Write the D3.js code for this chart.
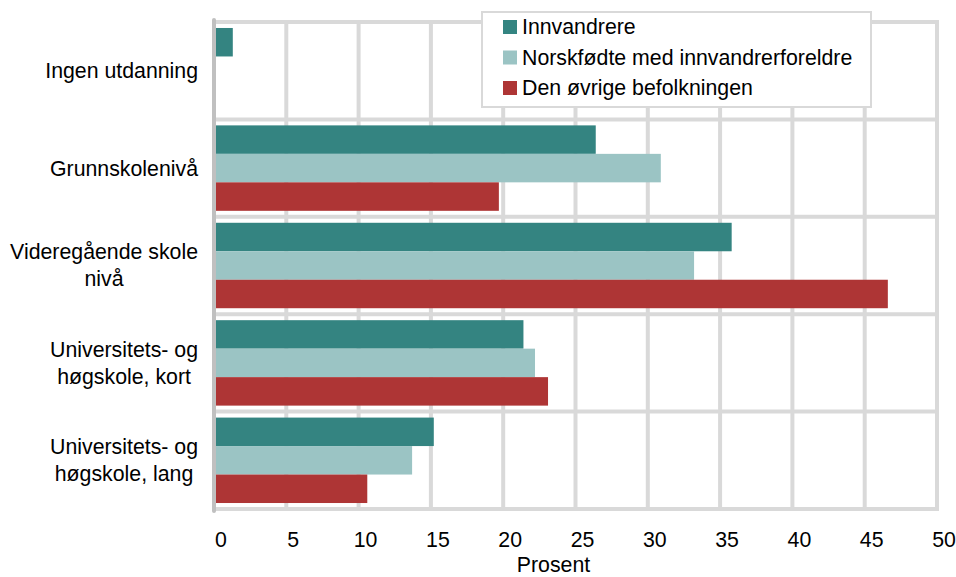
<!DOCTYPE html>
<html>
<head>
<meta charset="utf-8">
<script src="https://cdn.jsdelivr.net/npm/d3@7"></script>
<style>
  body { margin: 0; background: #fff; }
  text { font-family: "Liberation Sans", Arial, sans-serif; fill: #000; }
</style>
</head>
<body>
<div id="chart"></div>
<script>
// categories top to bottom, each label split into lines
let categories = ["Ingen utdanning", "Grunnskolenivå", "Videregående skole nivå",
    "Universitets- og høgskole, kort", "Universitets- og høgskole, lang"];
let labelLines = [["Ingen utdanning"], ["Grunnskolenivå"], ["Videregående skole", "nivå"],
    ["Universitets- og", "høgskole, kort"], ["Universitets- og", "høgskole, lang"]];
let seriesNames = ["Innvandrere", "Norskfødte med innvandrerforeldre", "Den øvrige befolkningen"];
let innvandrere = [1.3, 26.4, 35.8, 21.4, 15.2];
let norskfodte = [0, 30.9, 33.2, 22.2, 13.7];
let ovrige = [0, 19.7, 46.6, 23.1, 10.6];
let xTicks = [0, 5, 10, 15, 20, 25, 30, 35, 40, 45, 50];
let colors = ["#348481", "#9bc4c4", "#ae3535"];

let width = 956, height = 577;
let margin = {top: 22, right: 19, bottom: 68, left: 214};
let fs = "21.3px";

let svg = d3.select("#chart").append("svg").attr("width", width).attr("height", height);

let x = d3.scaleLinear().domain([0, 50]).range([margin.left, width - margin.right]);
let y0 = d3.scaleBand().domain(categories).range([margin.top, height - margin.bottom]);
let y1 = d3.scaleBand().domain(seriesNames).range([0, y0.bandwidth()]).paddingOuter(0.21);

let series = [innvandrere, norskfodte, ovrige];

// gridlines
svg.append("g").selectAll("line").data(xTicks.slice(1)).enter().append("line")
    .attr("x1", d => x(d)).attr("x2", d => x(d))
    .attr("y1", margin.top).attr("y2", height - margin.bottom)
    .attr("stroke", "#d9d9d9").attr("stroke-width", 4);

let hLines = categories.map(c => y0(c)).concat([height - margin.bottom]);
svg.append("g").selectAll("line").data(hLines).enter().append("line")
    .attr("x1", margin.left).attr("x2", x(50) + 2)
    .attr("y1", d => d).attr("y2", d => d)
    .attr("stroke", "#d9d9d9").attr("stroke-width", 4);

// bars
categories.forEach(function(c, i) {
    let g = svg.append("g").attr("transform", "translate(0," + y0(c) + ")");
    seriesNames.forEach(function(s, j) {
        let v = series[j][i];
        if (v <= 0) return;
        g.append("rect")
            .attr("x", x(0)).attr("y", y1(s))
            .attr("width", x(v) - x(0)).attr("height", y1.bandwidth())
            .attr("fill", colors[j]);
    });
});

// left axis line
svg.append("line").attr("x1", x(0)).attr("x2", x(0))
    .attr("y1", margin.top - 2).attr("y2", height - margin.bottom + 2)
    .attr("stroke", "#c0c0c0").attr("stroke-width", 4).attr("stroke-linecap", "round");

// x tick labels
svg.append("g").selectAll("text").data(xTicks).enter().append("text")
    .attr("x", d => x(d) + 7).attr("y", 547)
    .attr("text-anchor", "middle").style("font-size", fs)
    .text(d => d);

svg.append("text").attr("x", (x(0) + x(50)) / 2 - 22).attr("y", 572)
    .attr("text-anchor", "middle").style("font-size", fs).text("Prosent");

// category labels: lines centered on each other, block right-aligned
categories.forEach(function(c, i) {
    let lines = labelLines[i];
    let t = svg.append("text").style("font-size", fs).attr("text-anchor", "middle");
    let lh = 27;
    let cy = y0(c) + y0.bandwidth() / 2 - (lines.length - 1) * lh / 2;
    let spans = lines.map((l, k) => t.append("tspan").attr("y", cy + k * lh).attr("dy", "0.35em").text(l));
    let maxW = d3.max(spans, s => s.node().getComputedTextLength());
    spans.forEach(s => s.attr("x", 198 - maxW / 2));
});

// legend
let legend = svg.append("g").attr("transform", "translate(482,12)");
legend.append("rect").attr("width", 389).attr("height", 95)
    .attr("fill", "#fff").attr("stroke", "#d9d9d9").attr("stroke-width", 2);
seriesNames.forEach(function(s, j) {
    let row = legend.append("g").attr("transform", "translate(21," + (15 + j * 30.5) + ")");
    row.append("rect").attr("x", 0).attr("y", -7).attr("width", 14).attr("height", 14).attr("fill", colors[j]);
    row.append("text").attr("x", 19).attr("dy", "0.35em").style("font-size", fs).text(s);
});
</script>
</body>
</html>
